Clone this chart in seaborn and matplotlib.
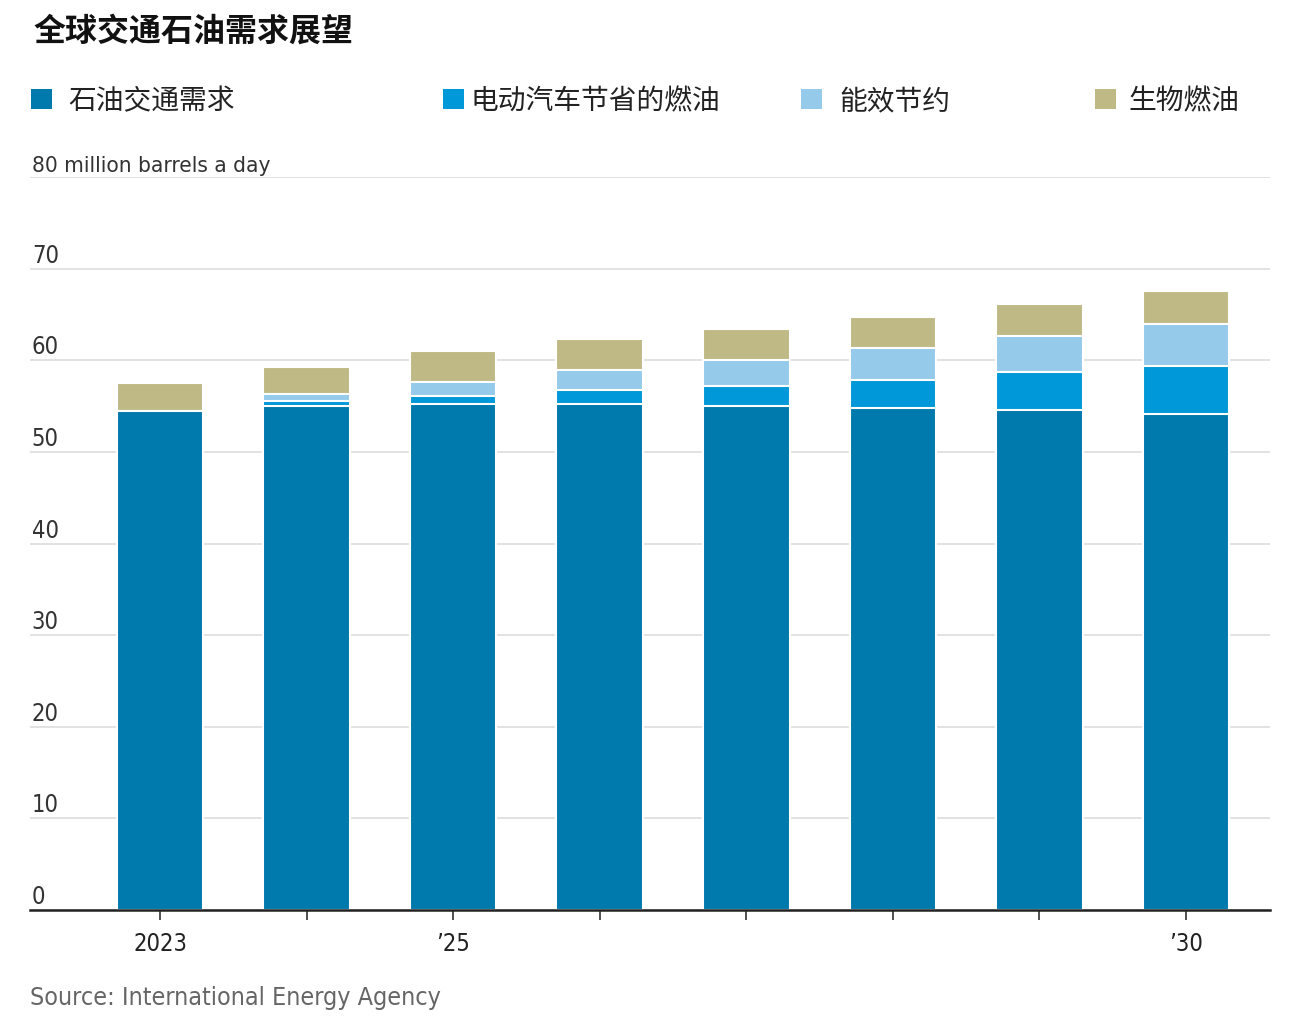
import numpy as np
import pandas as pd
import seaborn as sns
import matplotlib.pyplot as plt
from matplotlib.patches import Patch
from matplotlib.transforms import blended_transform_factory

# Chart data (million barrels a day)
years = ['2023', '2024', '2025', '2026', '2027', '2028', '2029', '2030']
oil_demand = [54.5, 55.0, 55.25, 55.2, 55.0, 54.8, 54.6, 54.15]
ev_saved = [0.0, 0.5, 0.85, 1.55, 2.2, 3.05, 4.15, 5.25]
efficiency = [0.0, 0.8, 1.55, 2.15, 2.85, 3.5, 3.95, 4.6]
biofuels = [3.0, 3.0, 3.35, 3.4, 3.4, 3.4, 3.4, 3.6]

series_names = ['石油交通需求', '电动汽车节省的燃油', '能效节约', '生物燃油']
colors = ['#0079AD', '#0098D8', '#95CAEB', '#BFBA85']
x_labels = ['2023', '', '\u201925', '', '', '', '', '\u201930']
y_ticks = [0, 10, 20, 30, 40, 50, 60, 70, 80]
y_labels = ['0', '10', '20', '30', '40', '50', '60', '70', '80 million barrels a day']

df = pd.DataFrame({'year': years, 'oil': oil_demand, 'ev': ev_saved,
                   'eff': efficiency, 'bio': biofuels})
cols = ['oil', 'ev', 'eff', 'bio']
cum = df[cols].cumsum(axis=1)

sns.set_style('white')
plt.rcParams['font.family'] = ['DejaVu Sans']
plt.rcParams['font.stretch'] = 'condensed'
cjk = ['Noto Sans CJK SC', 'DejaVu Sans']

fig = plt.figure(figsize=(13.06, 10.30), dpi=100)
ax = fig.add_axes([30 / 1306, 1 - 910 / 1030, 1240 / 1306, 733 / 1030])

# stacked bars drawn as overlapping cumulative totals, tallest first
for col, color in zip(cols[::-1], colors[::-1]):
    sns.barplot(x=df['year'], y=cum[col], order=years, color=color, width=0.59,
                edgecolor='white', linewidth=1.5, saturation=1, ax=ax, zorder=3)

ax.set_xlim(-0.887, 7.573)
ax.set_ylim(0, 80)
ax.set_xlabel('')
ax.set_ylabel('')

# gridlines
ax.set_yticks(y_ticks)
ax.yaxis.grid(True, color='#e2e2e2', linewidth=1.4, zorder=0)
ax.tick_params(axis='y', length=0, labelleft=False)

# y labels sit inside the plot, above each gridline
trans = blended_transform_factory(ax.transAxes, ax.transData)
for val, lab in zip(y_ticks, y_labels):
    ax.text(0.0015, val + 0.1, lab, transform=trans, ha='left', va='bottom',
            fontsize=17 if val < 80 else 16.2, color='#333333')

ax.set_xticks(range(len(years)))
ax.set_xticklabels(x_labels, fontsize=17, color='#222222')
ax.tick_params(axis='x', bottom=True, direction='out', length=7, width=1.2,
               color='#333333', pad=9)

for s in ['top', 'right', 'left']:
    ax.spines[s].set_visible(False)
ax.spines['bottom'].set_color('#222222')
ax.spines['bottom'].set_linewidth(1.8)
ax.spines['bottom'].set_zorder(5)

# title
fig.text(33 / 1306, 1 - 16 / 1030, '全球交通石油需求展望', fontsize=23, fontweight='bold',
         family=cjk, ha='left', va='top', color='#111111')

# legend entries placed individually
legend_x = [31, 443, 801, 1095]
text_pads = [0.6, 0.25, 0.65, 0.45]
for name, color, lx, pad in zip(series_names, colors, legend_x, text_pads):
    leg = fig.legend(handles=[Patch(facecolor=color, edgecolor='none', label=name)],
                     loc='center left', bbox_to_anchor=(lx / 1306, 1 - 101 / 1030),
                     frameon=False, handlelength=0.75, handleheight=0.75,
                     handletextpad=pad, borderpad=0, borderaxespad=0,
                     prop={'family': cjk, 'size': 20})
    for t in leg.get_texts():
        t.set_color('#222222')

# source
fig.text(30 / 1306, 1 - 998 / 1030, 'Source: International Energy Agency', fontsize=18,
         color='#666666', ha='left', va='center')

fig.savefig('out.png', dpi=100)
